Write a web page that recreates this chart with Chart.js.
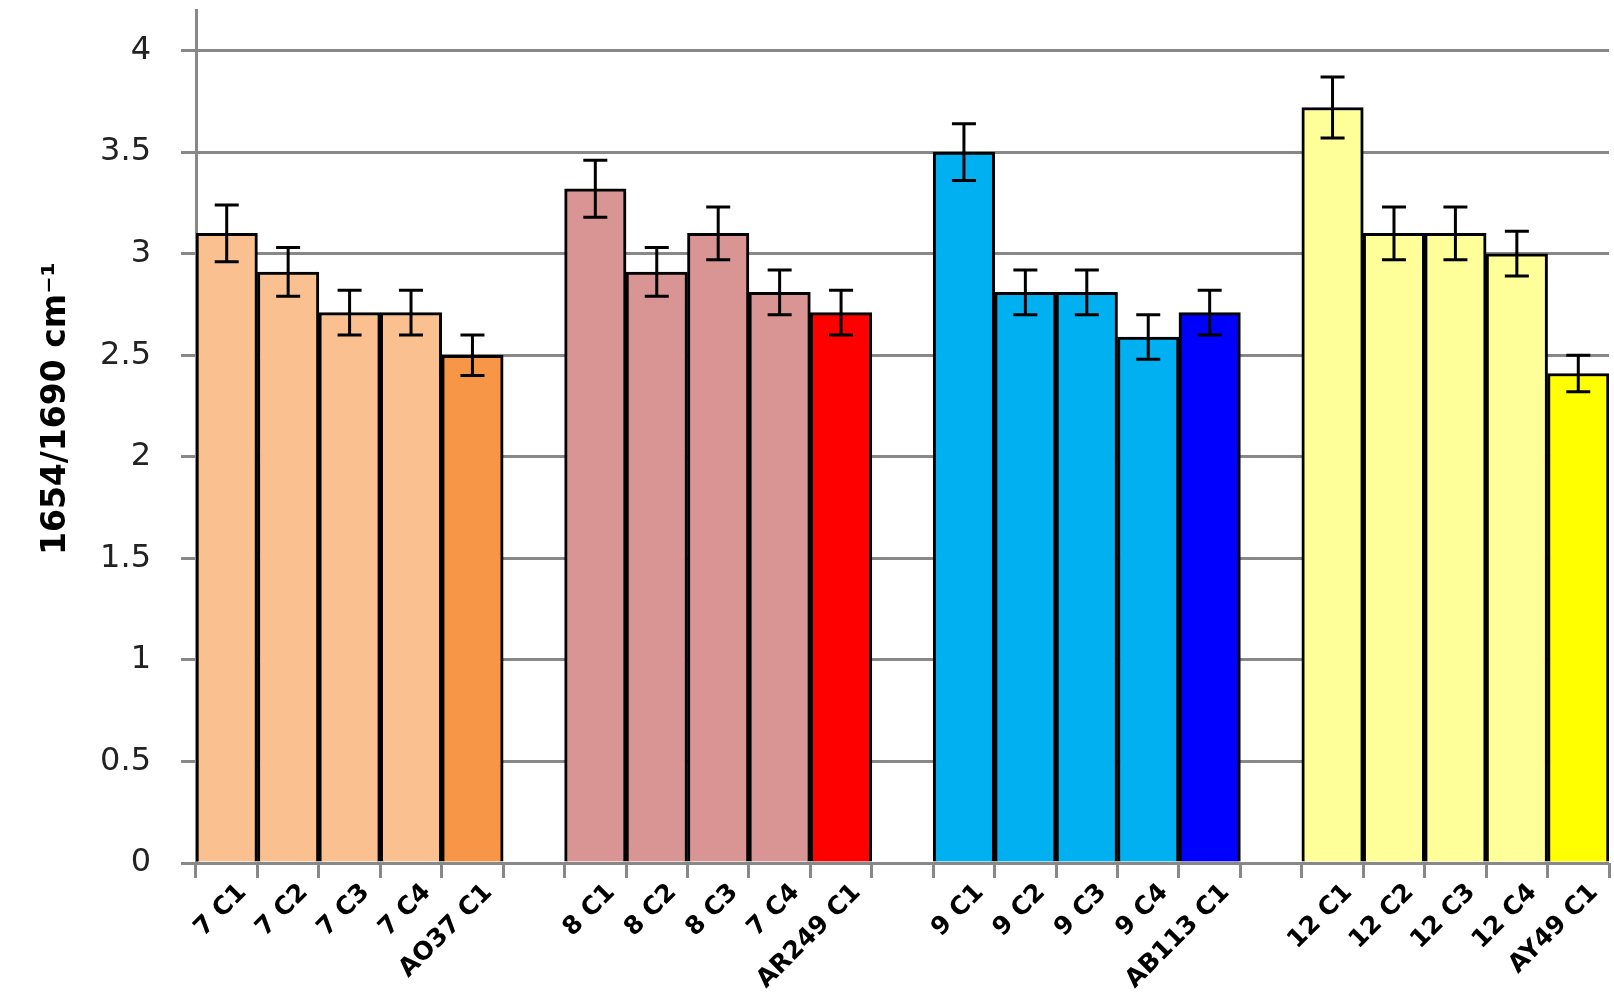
<!DOCTYPE html>
<html>
<head>
<meta charset="utf-8">
<script src="https://cdn.jsdelivr.net/npm/chart.js@4.4.1/dist/chart.umd.min.js"></script>
<style>
  html, body { margin: 0; padding: 0; background: #fff; overflow: hidden; }
  #wrap { width: 1614px; height: 1000px; }
</style>
</head>
<body>
<div id="wrap"><canvas id="ratioChart" width="1614" height="1000"></canvas></div>
<script>
// categories (empty labels are the spacers between groups)
var labels = ['7 C1', '7 C2', '7 C3', '7 C4', 'AO37 C1', '',
              '8 C1', '8 C2', '8 C3', '7 C4', 'AR249 C1', '',
              '9 C1', '9 C2', '9 C3', '9 C4', 'AB113 C1', '',
              '12 C1', '12 C2', '12 C3', '12 C4', 'AY49 C1'];

// 1654/1690 ratio and its error
var ratio = [3.1, 2.91, 2.71, 2.71, 2.5, null,
             3.32, 2.91, 3.1, 2.81, 2.71, null,
             3.5, 2.81, 2.81, 2.59, 2.71, null,
             3.72, 3.1, 3.1, 3.0, 2.41];
var ratioErr = [0.14, 0.12, 0.11, 0.11, 0.1, null,
                0.14, 0.12, 0.13, 0.11, 0.11, null,
                0.14, 0.11, 0.11, 0.11, 0.11, null,
                0.15, 0.13, 0.13, 0.11, 0.09];

var barColors = ['#FAC090', '#FAC090', '#FAC090', '#FAC090', '#F79646', '#fff',
                 '#D99594', '#D99594', '#D99594', '#D99594', '#FF0000', '#fff',
                 '#00B0F0', '#00B0F0', '#00B0F0', '#00B0F0', '#0000FF', '#fff',
                 '#FFFF99', '#FFFF99', '#FFFF99', '#FFFF99', '#FFFF00'];

var yTicks = [0, 0.5, 1, 1.5, 2, 2.5, 3, 3.5, 4];
var yTitle = '1654/1690 cm\u207B\u00B9';

// whiskers on top of the bars
var errorBars = {
    id: 'errorBars',
    afterDatasetsDraw: function(chart) {
        var ctx = chart.ctx;
        var y = chart.scales.y;
        var meta = chart.getDatasetMeta(0);
        ctx.save();
        ctx.strokeStyle = '#000';
        ctx.lineWidth = 3;
        meta.data.forEach(function(bar, i) {
            if (ratio[i] == null) return;
            var x = bar.x;
            var hi = y.getPixelForValue(ratio[i] + ratioErr[i]);
            var lo = y.getPixelForValue(ratio[i] - ratioErr[i]);
            ctx.beginPath();
            ctx.moveTo(x, hi); ctx.lineTo(x, lo);
            ctx.moveTo(x - 12, hi); ctx.lineTo(x + 12, hi);
            ctx.moveTo(x - 12, lo); ctx.lineTo(x + 12, lo);
            ctx.stroke();
        });
        ctx.restore();
    }
};

// axis title sits a bit above the middle of the plot, so draw it by hand
var axisTitle = {
    id: 'axisTitle',
    afterDraw: function(chart) {
        var ctx = chart.ctx;
        var area = chart.chartArea;
        ctx.save();
        ctx.translate(56, (area.top + area.bottom) / 2 - 28);
        ctx.rotate(-Math.PI / 2);
        ctx.font = 'bold 33px "DejaVu Sans"';
        ctx.fillStyle = '#000';
        ctx.textAlign = 'center';
        ctx.textBaseline = 'middle';
        ctx.fillText(yTitle, 0, 0);
        ctx.restore();
    }
};

var ctx1 = document.getElementById('ratioChart').getContext('2d');
var ratioChart = new Chart(ctx1, {
    type: 'bar',
    data: {
        labels: labels,
        datasets: [{
            data: ratio,
            backgroundColor: barColors,
            borderColor: '#000',
            borderWidth: 3,
            borderSkipped: 'bottom',
            barPercentage: 1,
            categoryPercentage: 1
        }]
    },
    options: {
        responsive: false,
        animation: false,
        layout: { padding: { left: 10, top: 10, right: 5, bottom: 0 } },
        plugins: {
            legend: { display: false },
            tooltip: { enabled: false }
        },
        scales: {
            x: {
                offset: true,
                grid: {
                    offset: true,
                    drawOnChartArea: false,
                    color: '#888',
                    lineWidth: 3,
                    tickLength: 15
                },
                border: { display: false },
                ticks: {
                    color: '#000',
                    font: { family: 'DejaVu Sans', size: 25, weight: 'bold' },
                    minRotation: 45,
                    maxRotation: 45,
                    autoSkip: false,
                    labelOffset: 16,
                    padding: 0
                },
                afterFit: function(scale) { scale.height = 137; }
            },
            y: {
                min: 0,
                max: 4.2,
                afterBuildTicks: function(scale) {
                    scale.ticks = yTicks.map(function(v) { return { value: v }; });
                },
                grid: {
                    color: '#888',
                    lineWidth: 3,
                    tickLength: 15
                },
                border: { color: '#888', width: 3 },
                ticks: {
                    color: '#222',
                    font: { family: 'DejaVu Sans', size: 32 },
                    padding: 30,
                    callback: function(v) { return String(v); }
                },
                afterFit: function(scale) {
                    scale.width = 186;
                    scale.paddingTop = 0;
                    scale.paddingBottom = 0;
                }
            }
        }
    },
    plugins: [errorBars, axisTitle]
});
</script>
</body>
</html>
